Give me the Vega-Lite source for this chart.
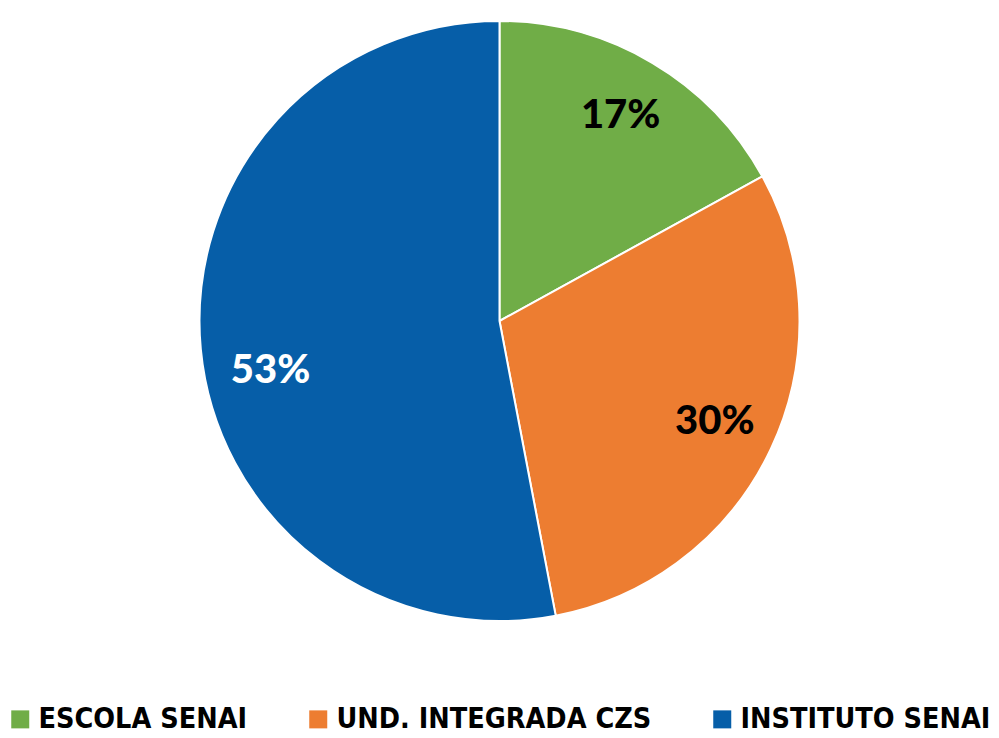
{
  "$schema": "https://vega.github.io/schema/vega-lite/v6.json",
  "width": 999,
  "height": 642,
  "autosize": {"type": "none"},
  "padding": {"left": 0, "top": 0, "right": 0, "bottom": 96},
  "background": "white",
  "config": {"view": {"stroke": null}},
  "data": {
    "values": [
      {"category": "ESCOLA SENAI", "value": 17, "label": "17%", "order": 1},
      {"category": "UND. INTEGRADA CZS", "value": 30, "label": "30%", "order": 2},
      {"category": "INSTITUTO SENAI", "value": 53, "label": "53%", "order": 3}
    ]
  },
  "encoding": {
    "theta": {"field": "value", "type": "quantitative", "stack": true},
    "order": {"field": "order", "type": "quantitative"}
  },
  "layer": [
    {
      "mark": {"type": "arc", "outerRadius": 300, "stroke": "white", "strokeWidth": 2},
      "encoding": {
        "color": {
          "field": "category",
          "type": "nominal",
          "sort": ["ESCOLA SENAI", "UND. INTEGRADA CZS", "INSTITUTO SENAI"],
          "scale": {
            "domain": ["ESCOLA SENAI", "UND. INTEGRADA CZS", "INSTITUTO SENAI"],
            "range": ["#70AD47", "#ED7D31", "#065EA8"]
          },
          "legend": {
            "title": null,
            "orient": "none",
            "legendX": 6,
            "legendY": 705,
            "padding": 0,
            "direction": "horizontal",
            "symbolType": "square",
            "symbolSize": 324,
            "symbolStrokeWidth": 0,
            "labelFont": "Liberation Sans Narrow, DejaVu Sans Condensed, sans-serif",
            "labelFontSize": 28.5,
            "labelFontWeight": "bold",
            "labelColor": "black",
            "labelOffset": 4,
            "columnPadding": 56,
            "labelLimit": 500
          }
        }
      }
    },
    {
      "transform": [{"filter": "datum.category !== 'INSTITUTO SENAI'"}],
      "mark": {"type": "text", "radius": 238, "fontSize": 40, "fontWeight": 900, "font": "Lato", "color": "black"},
      "encoding": {
        "text": {"field": "label", "type": "nominal"}
      }
    },
    {
      "mark": {"type": "text", "radius": 238, "dx": 8, "dy": 28, "fontSize": 40, "fontWeight": 900, "font": "Lato", "color": "white"},
      "encoding": {
        "text": {"field": "label", "type": "nominal"},
        "opacity": {
          "condition": {"test": "datum.category === 'INSTITUTO SENAI'", "value": 1},
          "value": 0
        }
      }
    }
  ]
}
